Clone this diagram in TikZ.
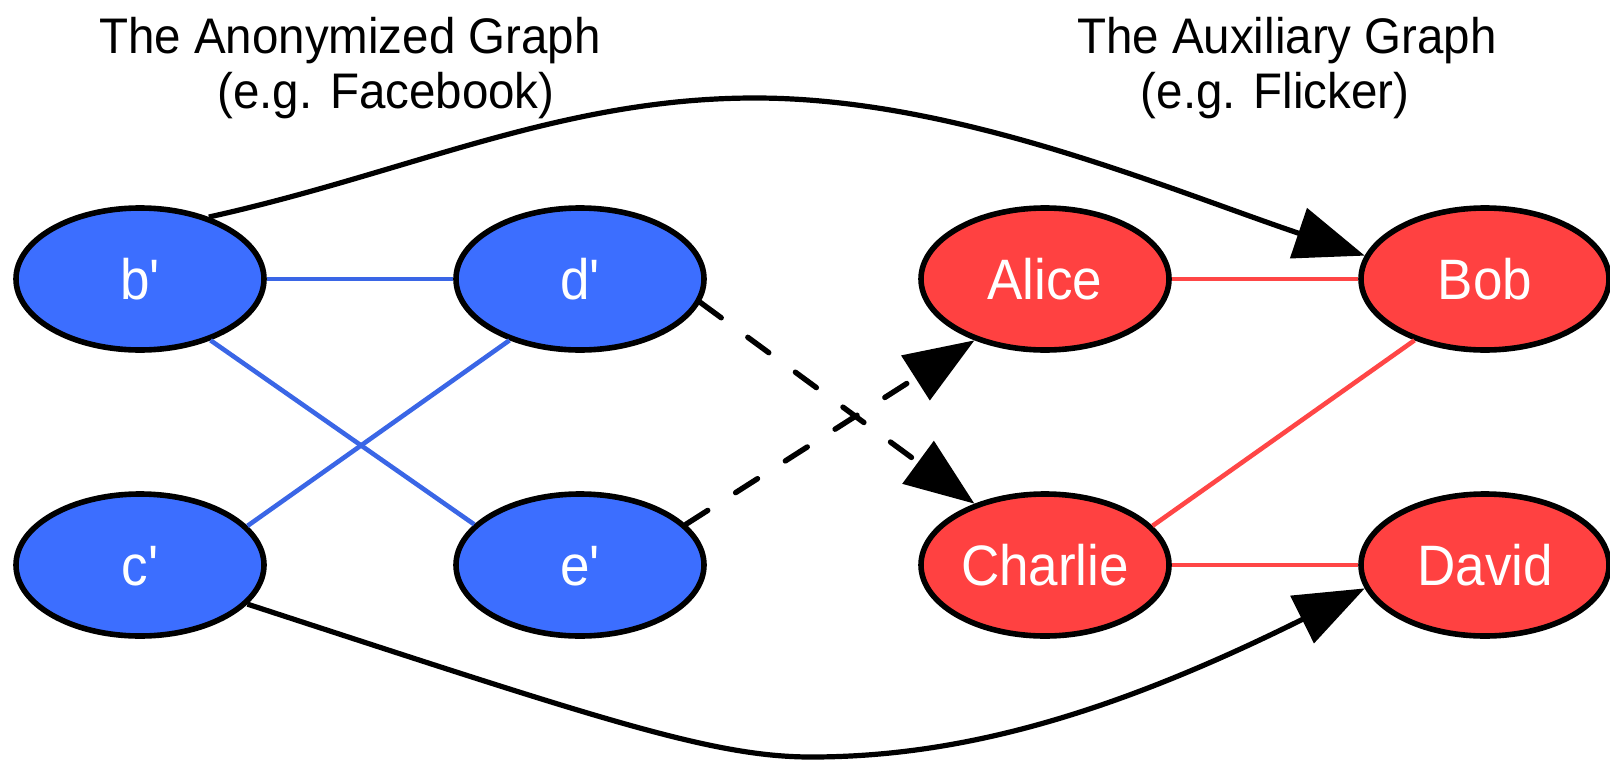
\documentclass[tikz,border=0pt]{standalone}
\usepackage{fontspec}
\newfontfamily\nodefont{Liberation Sans}[FakeStretch=0.93]
\newfontfamily\headfont{Liberation Sans}[FakeStretch=0.95]
\usetikzlibrary{shapes.geometric,arrows.meta}

\definecolor{nodeblue}{HTML}{3C6EFF}
\definecolor{edgeblue}{HTML}{3A66E6}
\definecolor{nodered}{HTML}{FF4141}
\definecolor{edgered}{HTML}{FF4646}

\tikzset{
  vertex/.style={ellipse, draw=black, line width=2.8pt,
    minimum width=124pt, minimum height=71pt, inner sep=0pt,
    text=white, text height=20pt, text depth=0pt,
    font=\nodefont\fontsize{28.5}{32}\selectfont},
  anon/.style={vertex, fill=nodeblue},
  aux/.style={vertex, fill=nodered},
  blueedge/.style={edgeblue, line width=2.3pt},
  rededge/.style={edgered, line width=2.3pt},
  seedmap/.style={line width=2.6pt, -{Triangle[length=35pt,width=26pt]}},
  guess/.style={line width=2.7pt, line cap=round,
    dash pattern=on 13pt off 16.5pt, -{Triangle[length=35pt,width=26pt]}},
  title/.style={anchor=base, inner sep=0pt,
    font=\headfont\fontsize{25}{29}\selectfont},
}

\begin{document}
\begin{tikzpicture}[x=0.5pt, y=-0.5pt]
  \useasboundingbox (0,0) rectangle (1610,760);

  % headings
  \node[title] (anontitle) at (350,53)  {The Anonymized Graph};
  \node[title] (anonsub)   at (386,108) {(e.g. Facebook)};
  \node[title] (auxtitle)  at (1287,53) {The Auxiliary Graph};
  \node[title] (auxsub)    at (1275,108) {(e.g. Flicker)};

  % anonymized graph
  \node[anon] (bp) at (140,279) {b'};
  \node[anon] (dp) at (580,279) {d'};
  \node[anon] (cp) at (140,565) {c'};
  \node[anon] (ep) at (580,565) {e'};

  % auxiliary graph
  \node[aux] (alice)   at (1045,279) {Alice};
  \node[aux] (bob)     at (1485,279) {Bob};
  \node[aux] (charlie) at (1045,565) {Charlie};
  \node[aux] (david)   at (1485,565) {David};

  % edges inside the anonymized graph
  \draw[blueedge] (bp.east) -- (dp.west);
  \draw[blueedge] (bp.-41) -- (ep.159);
  \draw[blueedge] (cp.20) -- (dp.221);

  % edges inside the auxiliary graph
  \draw[rededge] (alice.east) -- (bob.west);
  \draw[rededge] (bob.-139) -- (charlie.20);
  \draw[rededge] (charlie.east) -- (david.west);

  % uncertain mappings
  \draw[guess] (dp.-11) -- (charlie.139);
  \draw[guess] (ep.21) -- (alice.221);

  % seed mappings
  \draw[seedmap] (bp.42) .. controls (408,173) and (560,98) .. (755,98)
    .. controls (955,98) and (1162,187) .. (bob.169);
  \draw[seedmap] (cp.-20) .. controls (597,718) and (711,757) .. (811,757)
    .. controls (961,757) and (1112,714) .. (david.191);
\end{tikzpicture}
\end{document}
